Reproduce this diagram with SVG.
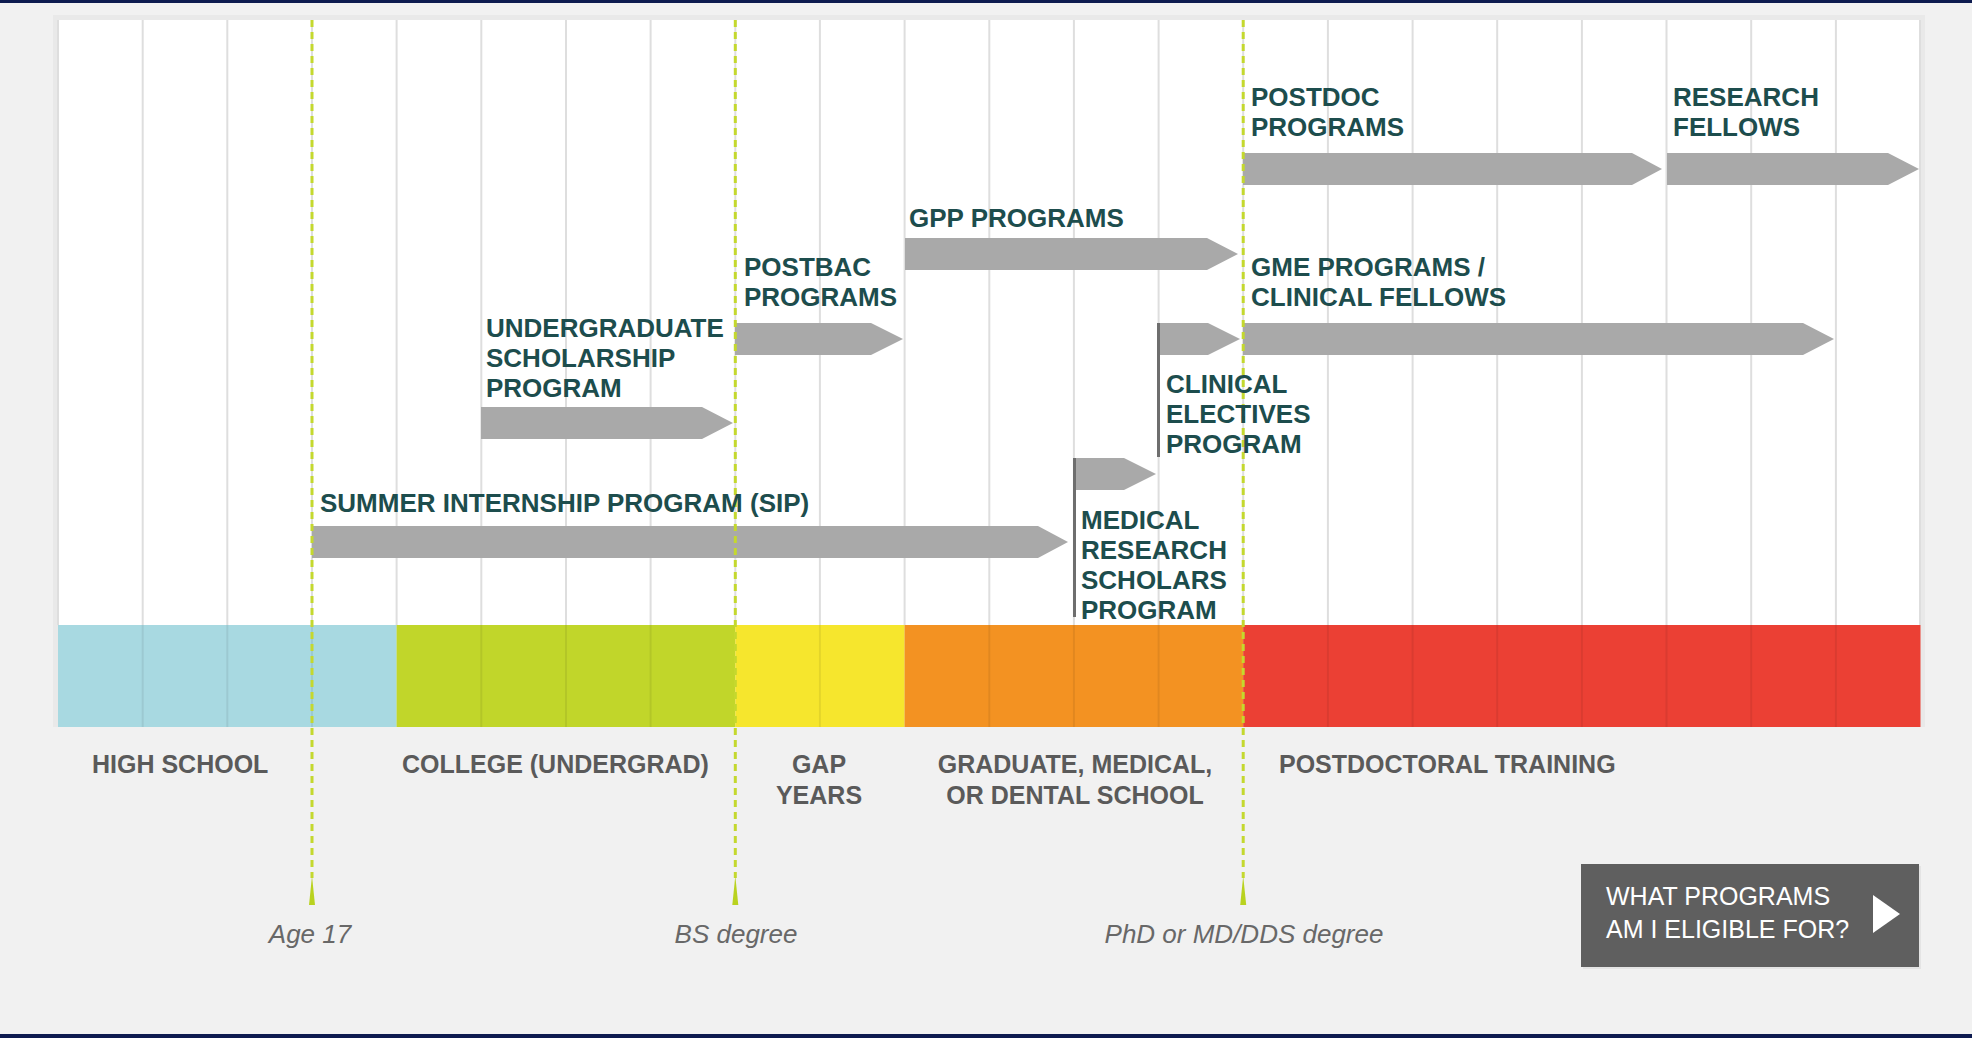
<svg xmlns="http://www.w3.org/2000/svg" width="1972" height="1038" viewBox="0 0 1972 1038">
  <defs>
    <style>
      .grid { stroke: #dedede; stroke-width: 2; }
      .gridband { stroke: #000000; stroke-opacity: 0.07; stroke-width: 2; }
      .bar { fill: #a9a9a9; }
      .stem { stroke: #6e6e6e; stroke-width: 3; }
      .milestone { stroke: #c4d82e; stroke-width: 3; stroke-dasharray: 7 5; }
      .pointer { fill: #b9d21f; }
      .prog { font-family: "Liberation Sans", Arial, sans-serif; font-weight: bold; font-size: 26px; fill: #1d4d4d; }
      .stage { font-family: "Liberation Sans", Arial, sans-serif; font-weight: bold; font-size: 25px; fill: #5a5a5a; }
      .mark { font-family: "Liberation Sans", Arial, sans-serif; font-style: italic; font-size: 26px; fill: #686868; text-anchor: middle; }
      .btn { font-family: "Liberation Sans", Arial, sans-serif; font-size: 25px; fill: #ffffff; }
    </style>
  </defs>

  <!-- page -->
  <rect x="0" y="0" width="1972" height="1038" fill="#f1f1f1"/>
  <rect x="0" y="0" width="1972" height="3" fill="#0d1b4f"/>
  <rect x="0" y="1034" width="1972" height="4" fill="#0d1b4f"/>

  <!-- chart panel with a soft edge -->
  <rect x="53" y="15" width="1872" height="712" fill="#e9e9e9"/>
  <rect x="58" y="20" width="1862" height="605" fill="#ffffff"/>

  <!-- education stages band -->
  <g id="stages-band">
    <rect x="58" y="625" width="338.6" height="102" fill="#a8d9e1"/>
    <rect x="396.6" y="625" width="338.7" height="102" fill="#c1d62a"/>
    <rect x="735.3" y="625" width="169.3" height="102" fill="#f6e62d"/>
    <rect x="904.6" y="625" width="338.6" height="102" fill="#f39222"/>
    <rect x="1243.2" y="625" width="677.3" height="102" fill="#eb4034"/>
  </g>

  <!-- year grid -->
  <g id="grid">
    <g class="grid">
      <line x1="58" y1="20" x2="58" y2="625"/>
      <line x1="142.7" y1="20" x2="142.7" y2="625"/>
      <line x1="227.3" y1="20" x2="227.3" y2="625"/>
      <line x1="312" y1="20" x2="312" y2="625"/>
      <line x1="396.6" y1="20" x2="396.6" y2="625"/>
      <line x1="481.3" y1="20" x2="481.3" y2="625"/>
      <line x1="566" y1="20" x2="566" y2="625"/>
      <line x1="650.6" y1="20" x2="650.6" y2="625"/>
      <line x1="735.3" y1="20" x2="735.3" y2="625"/>
      <line x1="819.9" y1="20" x2="819.9" y2="625"/>
      <line x1="904.6" y1="20" x2="904.6" y2="625"/>
      <line x1="989.3" y1="20" x2="989.3" y2="625"/>
      <line x1="1073.9" y1="20" x2="1073.9" y2="625"/>
      <line x1="1158.6" y1="20" x2="1158.6" y2="625"/>
      <line x1="1243.2" y1="20" x2="1243.2" y2="625"/>
      <line x1="1327.9" y1="20" x2="1327.9" y2="625"/>
      <line x1="1412.6" y1="20" x2="1412.6" y2="625"/>
      <line x1="1497.2" y1="20" x2="1497.2" y2="625"/>
      <line x1="1581.9" y1="20" x2="1581.9" y2="625"/>
      <line x1="1666.5" y1="20" x2="1666.5" y2="625"/>
      <line x1="1751.2" y1="20" x2="1751.2" y2="625"/>
      <line x1="1835.9" y1="20" x2="1835.9" y2="625"/>
      <line x1="1920" y1="20" x2="1920" y2="625"/>
    </g>
    <g class="gridband">
      <line x1="142.7" y1="625" x2="142.7" y2="727"/>
      <line x1="227.3" y1="625" x2="227.3" y2="727"/>
      <line x1="312" y1="625" x2="312" y2="727"/>
      <line x1="481.3" y1="625" x2="481.3" y2="727"/>
      <line x1="566" y1="625" x2="566" y2="727"/>
      <line x1="650.6" y1="625" x2="650.6" y2="727"/>
      <line x1="819.9" y1="625" x2="819.9" y2="727"/>
      <line x1="989.3" y1="625" x2="989.3" y2="727"/>
      <line x1="1073.9" y1="625" x2="1073.9" y2="727"/>
      <line x1="1158.6" y1="625" x2="1158.6" y2="727"/>
      <line x1="1327.9" y1="625" x2="1327.9" y2="727"/>
      <line x1="1412.6" y1="625" x2="1412.6" y2="727"/>
      <line x1="1497.2" y1="625" x2="1497.2" y2="727"/>
      <line x1="1581.9" y1="625" x2="1581.9" y2="727"/>
      <line x1="1666.5" y1="625" x2="1666.5" y2="727"/>
      <line x1="1751.2" y1="625" x2="1751.2" y2="727"/>
      <line x1="1835.9" y1="625" x2="1835.9" y2="727"/>
    </g>
  </g>

  <!-- program spans -->
  <g id="connectors">
    <polygon id="bar-postdoc" class="bar" points="1243,153 1632,153 1662,169 1632,185 1243,185"/>
    <polygon id="bar-research-fellows" class="bar" points="1667,153 1888,153 1919,169 1888,185 1667,185"/>
    <polygon id="bar-gpp" class="bar" points="905,238 1207,238 1238,254 1207,270 905,270"/>
    <polygon id="bar-postbac" class="bar" points="735,323 871,323 903,339 871,355 735,355"/>
    <polygon id="bar-clinical-electives" class="bar" points="1158,323 1208,323 1240,339 1208,355 1158,355"/>
    <polygon id="bar-gme" class="bar" points="1243,323 1803,323 1834,339 1803,355 1243,355"/>
    <polygon id="bar-ugsp" class="bar" points="481,407 702,407 733,423 702,439 481,439"/>
    <polygon id="bar-mrsp" class="bar" points="1074,458 1124,458 1156,474 1124,490 1074,490"/>
    <polygon id="bar-sip" class="bar" points="312,526 1038,526 1068,542 1038,558 312,558"/>
    <line class="stem" x1="1158.5" y1="323" x2="1158.5" y2="457"/>
    <line class="stem" x1="1074.5" y1="458" x2="1074.5" y2="617"/>
  </g>

  <!-- milestones -->
  <g id="milestone-age17">
    <line class="milestone" x1="312" y1="20" x2="312" y2="878"/>
    <polygon class="pointer" points="309,905 315,905 312,876"/>
    <text class="mark" x="310" y="943">Age 17</text>
  </g>
  <g id="milestone-bs">
    <line class="milestone" x1="735.3" y1="20" x2="735.3" y2="878"/>
    <polygon class="pointer" points="732.3,905 738.3,905 735.3,876"/>
    <text class="mark" x="736" y="943">BS degree</text>
  </g>
  <g id="milestone-phd">
    <line class="milestone" x1="1243.2" y1="20" x2="1243.2" y2="878"/>
    <polygon class="pointer" points="1240.2,905 1246.2,905 1243.2,876"/>
    <text class="mark" x="1244" y="943">PhD or MD/DDS degree</text>
  </g>

  <!-- program labels -->
  <g id="node-postdoc">
    <text class="prog" x="1251" y="106">POSTDOC</text>
    <text class="prog" x="1251" y="136">PROGRAMS</text>
  </g>
  <g id="node-research-fellows">
    <text class="prog" x="1673" y="106">RESEARCH</text>
    <text class="prog" x="1673" y="136">FELLOWS</text>
  </g>
  <g id="node-gpp">
    <text class="prog" x="909" y="227">GPP PROGRAMS</text>
  </g>
  <g id="node-postbac">
    <text class="prog" x="744" y="276">POSTBAC</text>
    <text class="prog" x="744" y="306">PROGRAMS</text>
  </g>
  <g id="node-gme">
    <text class="prog" x="1251" y="276">GME PROGRAMS /</text>
    <text class="prog" x="1251" y="306">CLINICAL FELLOWS</text>
  </g>
  <g id="node-ugsp">
    <text class="prog" x="486" y="337">UNDERGRADUATE</text>
    <text class="prog" x="486" y="367">SCHOLARSHIP</text>
    <text class="prog" x="486" y="397">PROGRAM</text>
  </g>
  <g id="node-clinical-electives">
    <text class="prog" x="1166" y="393">CLINICAL</text>
    <text class="prog" x="1166" y="423">ELECTIVES</text>
    <text class="prog" x="1166" y="453">PROGRAM</text>
  </g>
  <g id="node-sip">
    <text class="prog" x="320" y="512">SUMMER INTERNSHIP PROGRAM (SIP)</text>
  </g>
  <g id="node-mrsp">
    <text class="prog" x="1081" y="529">MEDICAL</text>
    <text class="prog" x="1081" y="559">RESEARCH</text>
    <text class="prog" x="1081" y="589">SCHOLARS</text>
    <text class="prog" x="1081" y="619">PROGRAM</text>
  </g>

  <!-- stage labels -->
  <g id="stage-high-school">
    <text class="stage" x="92" y="773">HIGH SCHOOL</text>
  </g>
  <g id="stage-college">
    <text class="stage" x="402" y="773">COLLEGE (UNDERGRAD)</text>
  </g>
  <g id="stage-gap">
    <text class="stage" x="819" y="773" text-anchor="middle">GAP</text>
    <text class="stage" x="819" y="804" text-anchor="middle">YEARS</text>
  </g>
  <g id="stage-graduate">
    <text class="stage" x="1075" y="773" text-anchor="middle">GRADUATE, MEDICAL,</text>
    <text class="stage" x="1075" y="804" text-anchor="middle">OR DENTAL SCHOOL</text>
  </g>
  <g id="stage-postdoc">
    <text class="stage" x="1279" y="773">POSTDOCTORAL TRAINING</text>
  </g>

  <!-- eligibility button -->
  <g id="button-eligible">
    <rect x="1583" y="866" width="338" height="103" fill="#e4e4e4"/>
    <rect x="1581" y="864" width="338" height="103" fill="#5f5f5f"/>
    <text class="btn" x="1606" y="905">WHAT PROGRAMS</text>
    <text class="btn" x="1606" y="938">AM I ELIGIBLE FOR?</text>
    <polygon points="1873,895 1873,933 1900,914" fill="#ffffff"/>
  </g>
</svg>
